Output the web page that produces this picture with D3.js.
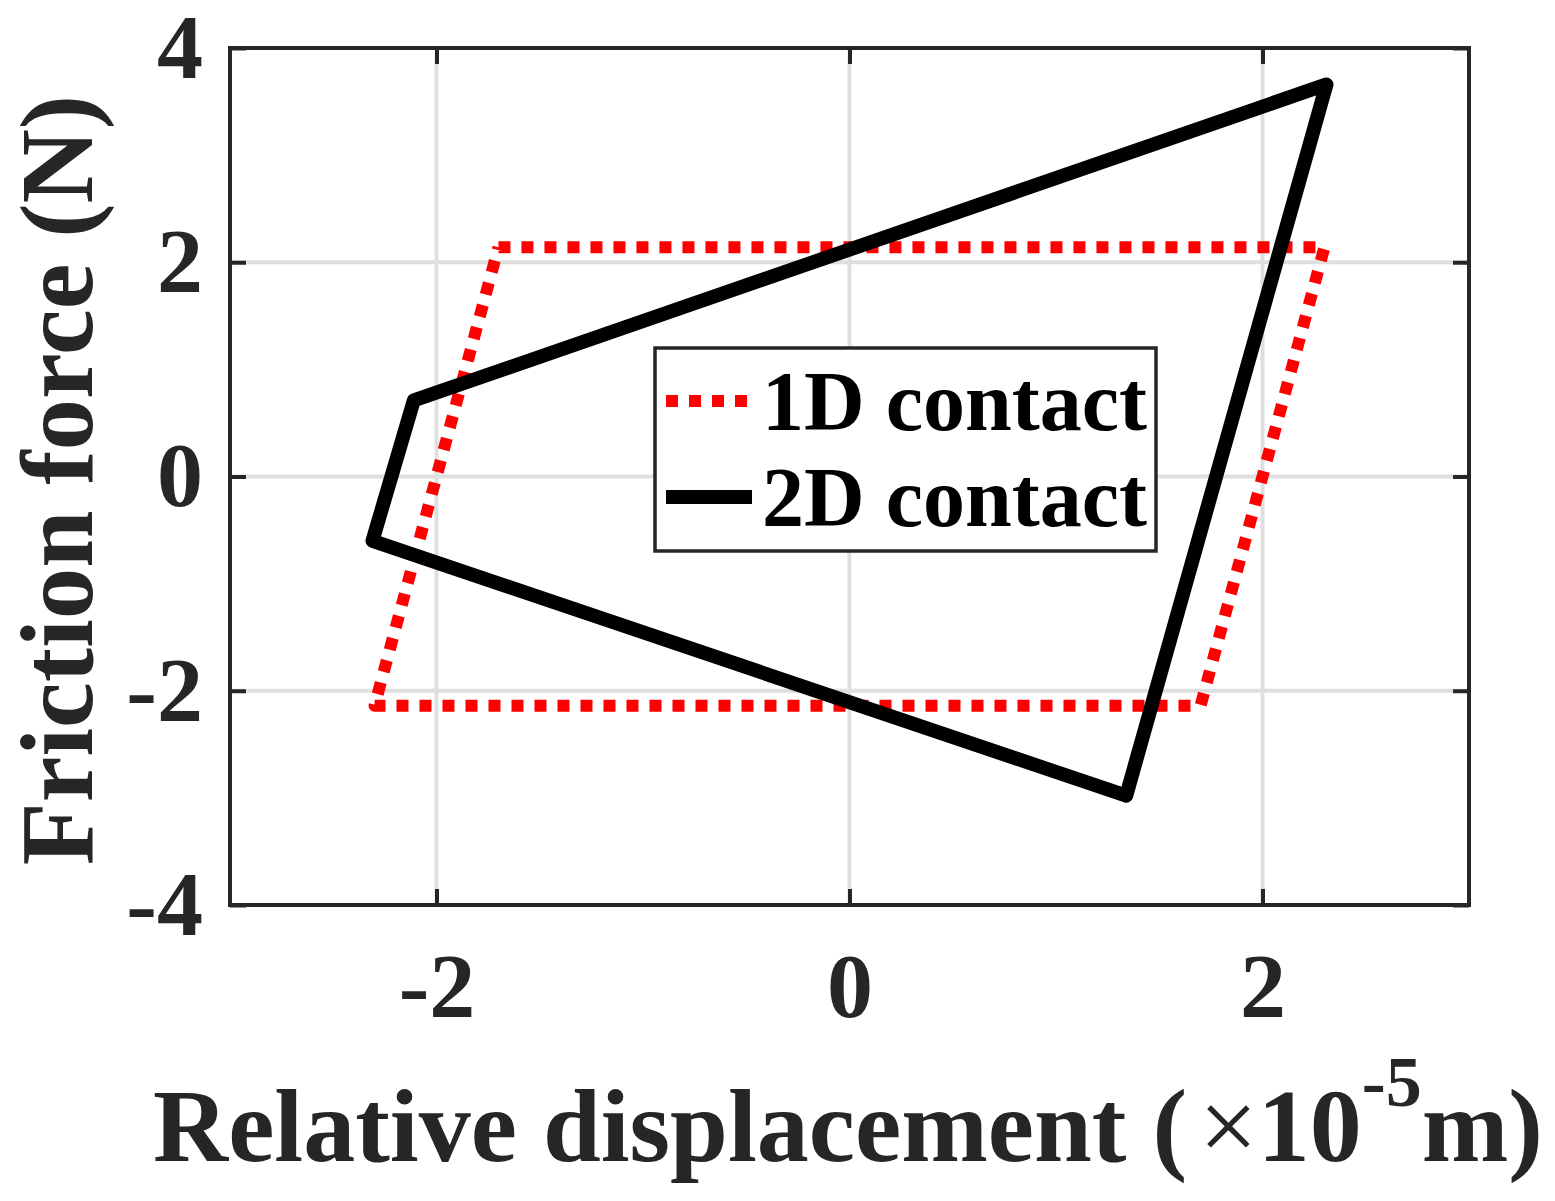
<!DOCTYPE html>
<html>
<head>
<meta charset="utf-8">
<script src="https://cdn.jsdelivr.net/npm/d3@7"></script>
<style>
  html, body { margin: 0; padding: 0; background: #fff; }
  svg { display: block; }
  text { font-family: "Liberation Serif", "Times New Roman", "DejaVu Serif", serif; font-weight: bold; }
</style>
</head>
<body>
<svg id="chart" width="1555" height="1201"></svg>
<script>
// ---- data ----
const xTicks = [-2, 0, 2];
const yTicks = [-4, -2, 0, 2, 4];
const xTickLabels = ["-2", "0", "2"];
const yTickLabels = ["-4", "-2", "0", "2", "4"];
const seriesNames = ["1D contact", "2D contact"];
// 1D contact (red dotted) loop: displacement (x1e-5 m), friction force (N)
const disp1D  = [-1.70, 2.30, 1.70, -2.30, -1.70];
const force1D = [ 2.14, 2.14, -2.14, -2.14, 2.14];
// 2D contact (black solid) loop
const disp2D  = [-2.11, 2.31, 1.34, -2.31, -2.11];
const force2D = [ 0.71, 3.66, -2.98, -0.60, 0.71];

// ---- layout ----
const svg = d3.select("#chart");
const L = 230, R = 1469, T = 48, B = 905;
const x = d3.scaleLinear().domain([-3, 3]).range([L, R]);
const y = d3.scaleLinear().domain([-4, 4]).range([B, T]);
const axisColor = "#262626";

// grid
const grid = svg.append("g");
grid.selectAll("line.gx").data(xTicks).join("line")
  .attr("x1", d => x(d)).attr("x2", d => x(d)).attr("y1", T).attr("y2", B)
  .attr("stroke", "#dfdfdf").attr("stroke-width", 4);
grid.selectAll("line.gy").data(yTicks).join("line")
  .attr("y1", d => y(d)).attr("y2", d => y(d)).attr("x1", L).attr("x2", R)
  .attr("stroke", "#dfdfdf").attr("stroke-width", 4);

// data lines
const line = d3.line().x(d => x(d[0])).y(d => y(d[1]));
const pts1 = disp1D.map((d, i) => [d, force1D[i]]);
const pts2 = disp2D.map((d, i) => [d, force2D[i]]);

svg.append("path").attr("d", line(pts1))
  .attr("fill", "none").attr("stroke", "#ff0000").attr("stroke-width", 12)
  .attr("stroke-dasharray", "12 11").attr("stroke-linejoin", "round");
svg.append("path").attr("d", line(pts2))
  .attr("fill", "none").attr("stroke", "#000000").attr("stroke-width", 14)
  .attr("stroke-linejoin", "round").attr("stroke-linecap", "round");

// axes (ticks inward)
const tickLen = 16;
const xAxis = d3.axisBottom(x).tickValues(xTicks).tickFormat((d, i) => xTickLabels[i])
  .tickSize(-tickLen).tickPadding(47);
const gx = svg.append("g").attr("transform", `translate(0,${B})`).call(xAxis);
const yAxis = d3.axisLeft(y).tickValues(yTicks).tickFormat((d, i) => yTickLabels[i])
  .tickSize(-tickLen).tickPadding(27);
const gy = svg.append("g").attr("transform", `translate(${L},0)`).call(yAxis);
const xTop = d3.axisTop(x).tickValues(xTicks).tickFormat("").tickSize(-tickLen);
const gxt = svg.append("g").attr("transform", `translate(0,${T})`).call(xTop);
const yRight = d3.axisRight(y).tickValues(yTicks).tickFormat("").tickSize(-tickLen);
const gyr = svg.append("g").attr("transform", `translate(${R},0)`).call(yRight);

[gx, gy, gxt, gyr].forEach(g => {
  g.select(".domain").remove();
  g.selectAll(".tick line").attr("stroke", axisColor).attr("stroke-width", 4);
  g.selectAll(".tick text").attr("fill", axisColor).attr("font-size", 92)
    .style("font-family", '"Liberation Serif", "Times New Roman", serif').style("font-weight", "bold");
});

// box
svg.append("rect").attr("x", L).attr("y", T).attr("width", R - L).attr("height", B - T)
  .attr("fill", "none").attr("stroke", axisColor).attr("stroke-width", 4);

// axis titles
const xt = svg.append("text").attr("x", 848).attr("y", 1161).attr("text-anchor", "middle")
  .attr("fill", axisColor).attr("font-size", 104);
xt.append("tspan").text("Relative displacement (");
xt.append("tspan").text("\u00D7").attr("font-weight", "normal").attr("dx", 12);
xt.append("tspan").text("10");
xt.append("tspan").text("-5").attr("font-size", 72).attr("dy", -55);
xt.append("tspan").text("m)").attr("dy", 55);

svg.append("text").attr("transform", "translate(92,480) rotate(-90)")
  .attr("text-anchor", "middle").attr("fill", axisColor).attr("font-size", 103)
  .text("Friction force (N)");

// legend
const lg = svg.append("g");
lg.append("rect").attr("x", 655).attr("y", 348).attr("width", 501).attr("height", 203)
  .attr("fill", "#fff").attr("stroke", axisColor).attr("stroke-width", 3.5);
const legY = [401, 497];
lg.append("line").attr("x1", 666).attr("x2", 750).attr("y1", legY[0]).attr("y2", legY[0])
  .attr("stroke", "#ff0000").attr("stroke-width", 12).attr("stroke-dasharray", "12 11");
lg.append("line").attr("x1", 666).attr("x2", 752).attr("y1", legY[1]).attr("y2", legY[1])
  .attr("stroke", "#000").attr("stroke-width", 14);
lg.selectAll("text").data(seriesNames).join("text")
  .attr("x", 762).attr("y", (d, i) => legY[i] + 29)
  .attr("font-size", 84).attr("fill", "#000").text(d => d);
</script>
</body>
</html>
